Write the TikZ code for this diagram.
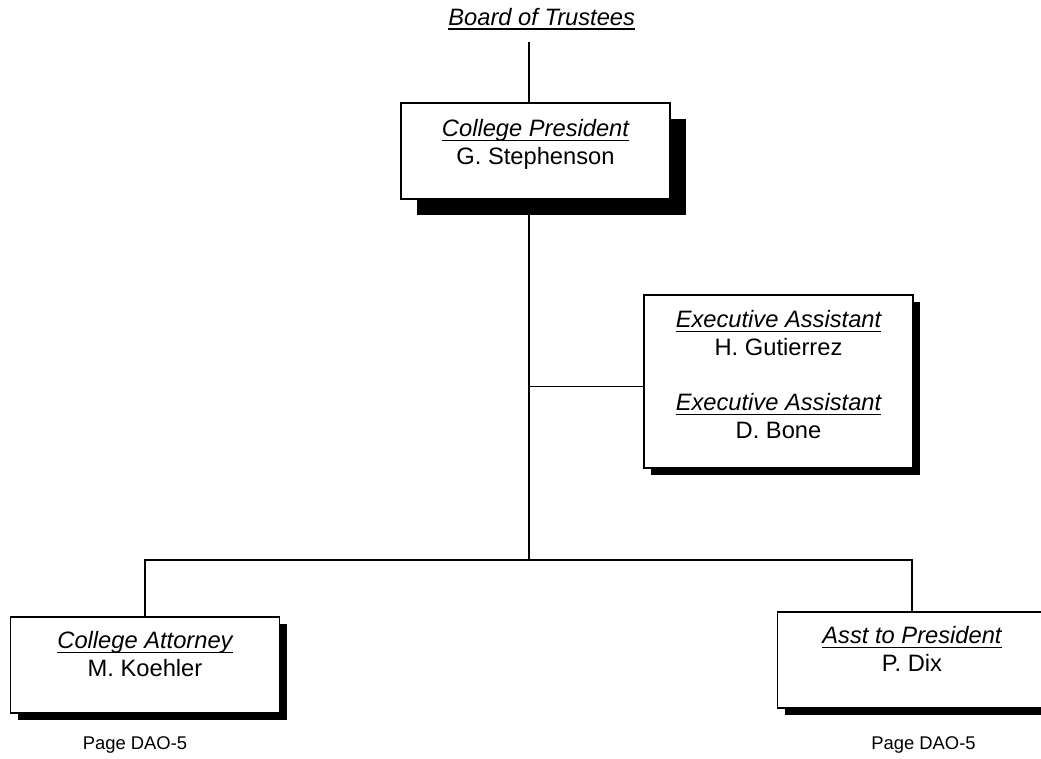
\documentclass[tikz,border=0pt]{standalone}
\usepackage{fontspec}
\setmainfont{Liberation Sans}
\usepackage{tikz}
\usetikzlibrary{calc,shadows}

\newcommand{\titleline}[1]{\setbox0\hbox{\itshape #1}\rlap{\rule[-4.5pt]{\wd0}{1.2pt}}\rule{0pt}{20pt}\box0}

\begin{document}
\begin{tikzpicture}[x=1pt,y=-1pt]

\tikzset{orgbox/.style={draw, fill=white, line width=1.3pt, minimum width=269pt, minimum height=#1, inner sep=0pt},
%boxes are 96pt high unless told otherwise
orgbox/.default={96pt},
orgtext/.style={anchor=north, inner sep=0pt, align=center, font=\fontsize{23.7}{28}\selectfont},
smallshadow/.style={drop shadow={shadow xshift=7pt, shadow yshift=-7pt, opacity=1, fill=black}},
wire/.style={line width=1.6pt}}

\useasboundingbox (0,0) rectangle (1041,758);

\node[orgtext, anchor=base] (board) at (541.7,25) {\titleline{Board of Trustees}};

\node[orgbox, drop shadow={shadow xshift=16pt, shadow yshift=-16pt, opacity=1, fill=black}] (pres) at (535.5,151) {};
\node[orgtext] (presText) at (535.5,116) {\titleline{College President}\\G. Stephenson};

\node[orgbox=173pt, smallshadow] (exec) at (778.5,381.5) {};
\node[orgtext] (execText) at (778.5,307) {\titleline{Executive Assistant}\\H. Gutierrez\\[27pt]\titleline{Executive Assistant}\\D. Bone};

\node[orgbox, smallshadow] (att) at (145,665) {};
\node[orgtext] (attText) at (145,628) {\titleline{College Attorney}\\M. Koehler};

\node[orgbox, smallshadow] (asst) at (912,660) {};
\node[orgtext] (asstText) at (912,623) {\titleline{Asst to President}\\P. Dix};

\foreach \x/\n in {135/pageL, 923.5/pageR}
  \node[anchor=base, inner sep=0pt, font=\fontsize{18.4}{22}\selectfont] (\n) at (\x,749) {Page DAO-5};

%now the lines between the boxes
\coordinate (spine) at (529,560);
\coordinate (execIn) at ($(exec.west)+(0,5)$);

\draw[wire] ($(board.south -| spine)+(0,12)$) -- (pres.north -| spine);
\draw[wire] (pres.south -| spine) -- (spine);
\draw[wire] (spine |- execIn) -- (execIn);
\draw[wire] (att.north) -- (att.north |- spine) -- (asst.north |- spine) -- (asst.north);

\end{tikzpicture}
\end{document}
